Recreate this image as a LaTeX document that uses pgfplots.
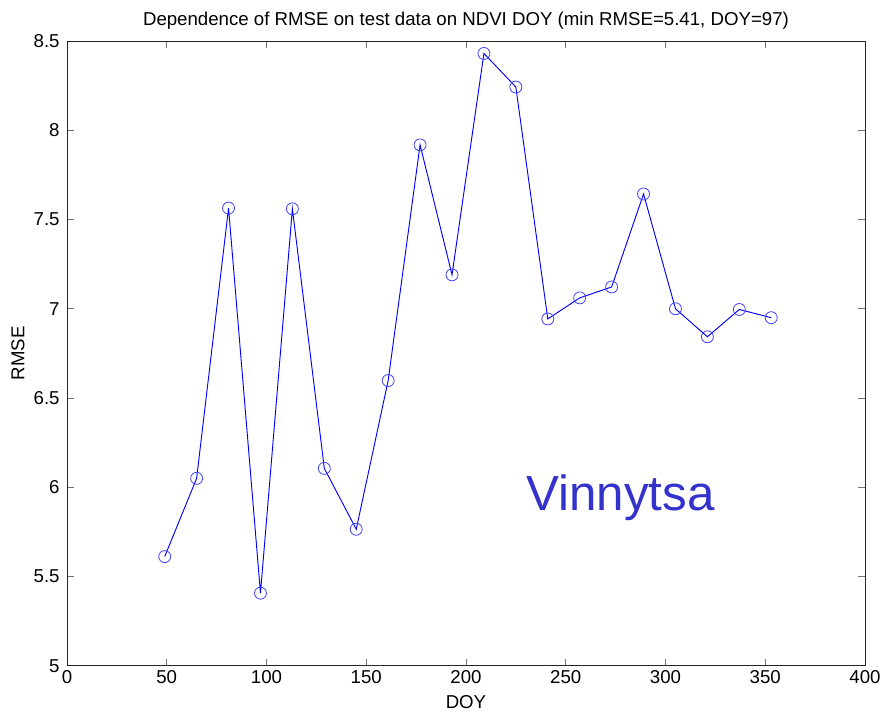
\documentclass[border=0pt]{standalone}
\usepackage{pgfplots}
\pgfplotsset{compat=1.18}
\usepackage{fontspec}
\setmainfont{Liberation Sans}
\usetikzlibrary{calc}
\definecolor{mblue}{RGB}{0,0,255}
\definecolor{vblue}{RGB}{51,51,204}
\begin{document}
\begin{tikzpicture}
\begin{axis}[
  scale only axis,
  width=599pt, height=469pt,
  xmin=0, xmax=400, ymin=5, ymax=8.5,
  xtick={0,50,...,400},
  ytick={5,5.5,...,8.5},
  tick align=inside,
  major tick length=5pt,
  tick style={color=black!55, line width=0.6pt},
  axis line style={color=black!85, line width=0.6pt},
  font=\fontsize{14}{16}\selectfont,
  tick label style={font=\fontsize{14}{16}\selectfont},
  /pgf/number format/assume math mode=true,
  xticklabel style={yshift=0pt},
  yticklabel style={xshift=-2pt},
  title={Dependence of RMSE on test data on NDVI DOY (min RMSE=5.41, DOY=97)},
  title style={yshift=-1pt},
  xlabel={DOY},
  ylabel={RMSE},
  xlabel style={yshift=-2pt},
  ylabel style={yshift=0pt},
]
\addplot[mblue, line width=0.7pt, mark=o, mark size=4.5pt,
  mark options={mblue!75, line width=0.6pt}] coordinates {
  (49,5.612) (65,6.05) (81,7.564) (97,5.407) (113,7.56) (129,6.106)
  (145,5.765) (161,6.598) (177,7.918) (193,7.19) (209,8.43) (225,8.242)
  (241,6.943) (257,7.061) (273,7.122) (289,7.643) (305,7.0) (321,6.843)
  (337,6.996) (353,6.95)
};
\node[text=vblue, font=\fontsize{37}{40}\selectfont] at (axis cs:277.5,5.94) {Vinnytsa};
\end{axis}
\path ($(current axis.south west)+(-50.25pt,-36.2pt)$) rectangle ($(current axis.north east)+(14.25pt,30.75pt)$);
\end{tikzpicture}
\end{document}
